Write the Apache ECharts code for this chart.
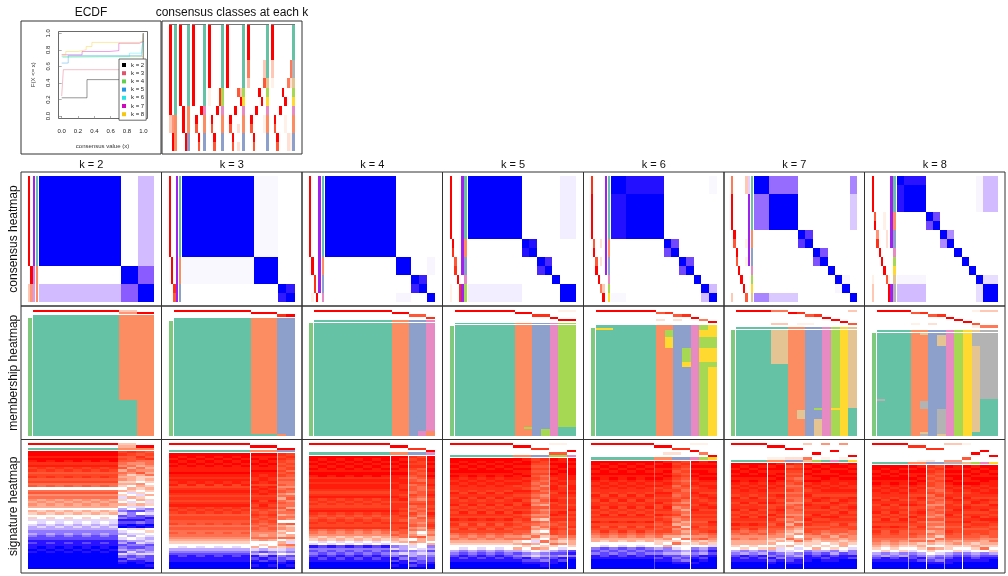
<!DOCTYPE html>
<html><head><meta charset="utf-8"><title>consensus partition</title>
<style>html,body{margin:0;background:#fff}#c{width:1008px;height:576px}</style>
<script src="https://cdn.jsdelivr.net/npm/echarts@6/dist/echarts.min.js"></script>
</head><body><div id="c"></div>
<script>
/* ---------- data ---------- */
const kValues=[2,3,4,5,6,7,8];
const kLabels=['k = 2','k = 3','k = 4','k = 5','k = 6','k = 7','k = 8'];
const rowLabels=['consensus heatmap','membership heatmap','signature heatmap'];
const ecdfX={2:[0,0.31,1],3:[0,0.02,1],4:[0.01,0.02,1],5:[0,0.08,0.98,1],6:[0,0.83,0.98,1],7:[0,0.25,0.58,0.7,0.95,1],8:[0,0.05,0.2,0.3,0.37,0.95,1]};
const ecdfY={2:[0.22,0.44,1],3:[0.24,0.56,1],4:[0.71,0.72,1],5:[0.64,0.73,0.74,1],6:[0.72,0.76,0.76,1],7:[0.74,0.78,0.79,0.88,0.9,1],8:[0.74,0.78,0.8,0.84,0.89,0.91,1]};
const ecdfColors=['#000000','#DF536B','#61D04F','#2297E6','#28E2E5','#CD0BBC','#F5C710'];
const classColors=['#ffffff','#66C2A5','#FC8D62','#8DA0CB','#E78AC3','#A6D854','#FFD92F','#E5C494','#B3B3B3'];

// consensus classes at each k : probability columns (rows top to bottom) and class column
const stepProb={
2:['99999999993300','00000000005599'],
3:['99999999900000','00000000099900','00000000000099'],
4:['99999999900000','00000000009700','00000000000097','00000000090000'],
5:['99999991100000','00000000009700','00000000000097','00000000090000','00000008800000'],
6:['99999990000000','00000000009700','00000000000097','00000000090000','00000007000202','00000003900000'],
7:['99996630000000','00000000009700','00000000000097','00000000090000','00000009000000','00000000900000','00003370001100'],
8:['99993310000000','00000000009700','00000000000097','00000000090000','00000009000000','00000000901100','00000060000022','00006620000011']};
const stepClass={2:'11111111112222',3:'11111111122233',4:'11111111142233',5:'11111115542233',6:'11111115642233',7:'11111175642233',8:'11118875642233'};

// consensus heatmap: sample blocks and the consensus between blocks (percent)
const consSizes={2:[10,2,2],3:[9,3,1,1],4:[9,2,1,1,1],5:[7,1,1,1,1,1,2],6:[2,5,1,1,1,1,1,1,1],7:[2,4,1,1,1,1,1,1,1,1],8:[1,3,1,1,1,1,1,1,1,1,2]};
const consLinks={
2:[[0,2,25],[1,2,55]],
3:[[0,1,2],[2,3,88]],
4:[[2,3,85],[1,4,3]],
5:[[1,2,92],[3,4,80],[0,6,5]],
6:[[0,1,92],[2,3,65],[4,5,65],[7,8,25],[0,8,2]],
7:[[0,1,50],[2,3,75],[4,5,60],[0,9,42],[1,9,20],[7,8,3]],
8:[[0,1,90],[2,3,65],[4,5,40],[0,10,25],[1,10,25],[9,10,12],[0,9,3],[1,9,3]]};
const consProb={
2:['99999999990033','00000000009955'],
3:['99999999900000','00000000099900','00000000000087'],
4:['99999999900000','00000000099001','00000000000880','00000000000009'],
5:['99999990000011','00000009800000','00000000078000','00000000000900','00000000000088'],
6:['88999990000000','00000007900000','00000000079000','00000000000900','00000002020060','00000000000039'],
7:['66999900000003','00000097000000','00000000970000','00000000009000','00000000000900','00000000000090','33000001010007'],
8:['99990000000133','00007900000000','00000058000000','00000000900000','00000000090000','00001100009000','00000022000700','00000000000199']};
const consSil={2:'99999999995544',3:'99999999999999',4:'99999999999990',5:'99999999999099',6:'99999999999000',7:'22999999990000',8:'99999999000099'};
const consClass={2:'11111111112222',3:'11111111122233',4:'11111111122334',5:'11111112233455',6:'11111112233456',7:'11111122334567',8:'11112233456788'};

// membership heatmap: bands [height, class of each of the 14 samples]
const memberBands={
2:[[258,'11111111112222'],[108,'11111111111122']],
3:[[351,'11111111122233'],[6,'11111111111123']],
4:[[6,'11111111122334'],[3,'00000000000000'],[327,'11111111122334'],[15,'11111111122342']],
5:[[6,'11111112233455'],[3,'00000000000000'],[308,'11111112233455'],[7,'11111112533411'],[21,'11111112235411']],
6:[[3,'11111112233456'],[6,'11111112233456'],[6,'66111112233456'],[21,'11111112533466'],[33,'11111112633455'],[45,'11111112235466'],[15,'11111112236455'],[210,'11111112233456']],
7:[[6,'11111122334567'],[3,'00000000000000'],[101,'11117722334567'],[135,'11111122334567'],[6,'11111122354661'],[27,'11111127334561'],[52,'11111122374561']],
8:[[6,'11112233456788'],[3,'00000000000000'],[6,'11112733456888'],[36,'11112237456888'],[159,'11112233456788'],[6,'81112233456711'],[26,'11112833456711'],[69,'11112238456711'],[7,'11112738456111'],[6,'11112837456111']]};
const memberProb={
2:['99999999993300','00000000005599'],
3:['99999999900000','00000000099900','00000000000089'],
4:['99999999900000','00000000099000','00000000000770','00000000000008'],
5:['99999990000011','00000009900000','00000000088000','00000000000900','00000000000099'],
6:['99999990000000','00000007800000','00000000078000','00000000000900','00000002020060','00000000000009'],
7:['99996600000003','00000098000000','00000000780000','00000000009000','00000000000900','00000000000090','00003301100007'],
8:['99990000000133','00007800000000','00000078000000','00000000900000','00000000090000','00000000009000','00001020000700','00000000000166']};

// signature heatmap: annotation rows
const sigProb={
2:['99999999993300','00000000004499'],
3:['99999999900000','00000000099900','00000000000099'],
4:['99999999900000','00000000099000','00000000000880','00000000000009'],
5:['99999990000110','00000009900000','00000000088000','00000000000009','00000000000770'],
6:['99999990000110','00000009900000','00000000088000','00000000000900','00000000220060','00000000000009'],
7:['99990000305050','00009900000000','00000099000000','00000000000900','00000000090000','00000000000009','00001122601010'],
8:['99990000331000','00008800000000','00000088000000','00000000000090','00000000000900','00000000000009','00000000007000','00000120550000']};
const sigClass={2:'11111111112222',3:'11111111122233',4:'11111111122334',5:'11111112233554',6:'11111112233456',7:'11112233751416',8:'11112233887546'};
const sigSizes={2:[10,2,2],3:[9,3,2],4:[9,2,2,1],5:[7,2,2,2,1],6:[7,2,2,2,1],7:[4,2,2,1,1,1,1,1,1],8:[4,2,2,2,1,1,1,1]};
const sigGaps={2:[],3:[[9,1],[12,0.6]],4:[[9,1],[11,1],[13,1]],5:[[11,0.6],[13,1]],6:[[7,0.3],[11,1]],7:[[4,1],[6,1],[8,1]],8:[[4,0.6],[6,1],[8,0.6],[10,1]]};
// signature heatmap: colour level of each gene row per column (0 blue, 6 white, f red); spaces only group the rows
const sigRows={
2:[['ffefe decdbcd bcab6 ab9a989 8687 675654 43432 1211010000000',
    'ffeff dedcbcc bcaa6 ab9a898 8678 665545 43322 1110100000000'],
   ['cdbcb a9b8a98 97876 8675768 6435 231210 65465 3423425312100',
    'dcbbb 9a8a978 87868 7568657 5623 321201 56546 4232354231000'],
   ['cbdca 98a9b87 76987 6757868 5426 221310 76565 4532435321100',
    'bcbda a9898a7 87678 7686757 6345 312201 67654 5423345222010']],
3:[['ffefefeef ededecdedcdcdecdcbc cbcabab a987 66 432 111000',
    'fefefeeef edeeccdedcdcdedcdbc cbbabaa a987 65 432 211000'],
   ['fefefeefe eddecededcdedcdbcdc bcbaba9 9a86 68 534 121010',
    'feefefefe deedcdedecdcdedcbcb cbabaa9 8a96 76 425 312000'],
   ['dcdcbcbcb cabab9ab9a8abab9a8a a6a8978 7a68 97 546 322100',
    'cdcbcbcac babaa9ba8ab9aa8ba9a 96b7886 8a75 a8 435 231010']],
4:[['ffefefefe dedeedcdedcdcdedcbcdcd ba9 87 65 1 323 211000',
    'fefefeeff dedeedcdecdccdecbcdccd a99 78 56 2 332 121000'],
   ['ffefefefe eedeedddedcdddedcccdcc cab 98 76 3 524 312010',
    'fefefeefe deeddedcdecddcdcdcbdcd bba a7 86 4 435 231100'],
   ['dcdcdcbcb abcabbacbabcabacb9aab9 a89 a6 97 5 634 423120',
    'cdccdbcbc bacbaabba9bcbaba9ba9a8 967 b8 86 6 545 332210'],
   ['ffefeffef eddedcdedcddcdcedcbcdc a9a 88 68 3 424 322100']],
5:[['ffefefef ededdcedcddecdcdcecdcbc a9a8 766 432 11000',
    'fefeffee dededdcdecdcdcedcdcbcdc ba98 765 321 21000'],
   ['fefefefe edecdedcdeccdcecdcbcbcb b9a7 868 423 21000',
    'effefeef deddcedcdcdedcdbcdcbccb a8a6 976 534 12100'],
   ['cdcbcbcb cbabacbab9a9bab9a8ba897 8a75 869 645 32100',
    'dccbcbca bab9bab9aba8b9a9a7a9a86 976a 678 534 23110'],
   ['fefefefe dedeedcddecddcdecdcbcdc c9a8 a76 423 21100',
    'eeffefee edecddedcddcdcedcdbcbcb ba87 965 324 12000'],
   ['fefefffe eddeededcddcdecdcdccdbc ca98 876 213 10000']],
6:[['ffefefef ededdcedcddecdcdcecdcb a988 66 323 110000',
    'fefeffee dededdcdecdcdcedcdcbcd ba87 65 232 210000'],
   ['fefeefef edecdedcdeccdcecdcbcbc ba87 76 423 121000',
    'effefefe deddcedcdcdedcdbcdcbcc a897 68 334 211000'],
   ['dcdcbcdc bcabcbabcab9abca9a8b9a a867 a6 534 232100',
    'cdcbcbcb abcbabbca9ba8a9ba897a8 97a6 76 645 323100'],
   ['fefefefe dedcdedcddcdedcdcbcdcb b9a8 76 323 210100',
    'eefeffef ededdcedcdedcdcdcbcbcc a9b7 86 434 121000'],
   ['fefeefef edeedcdedcdecdcdcedccd ba98 75 212 100000']],
7:[['ffefefef ededdcedcddecdcdcecd ba9a88 76 43 211000',
    'fefeffee dededdcdecdcdcedcdcb ab9988 67 34 121000'],
   ['fefeefef ededcdcdeccdcecdcbcb ba9878 68 42 312100',
    'effefefe deddcedcdcdedcdbcdcb a99786 75 53 231000'],
   ['ebdcbcbc babcabab9abaa9b9a8a9 878a76 86 54 322100',
    'dcdcbcab cabbabaa9baba9aa8b98 7968a7 65 63 421100'],
   ['fefefeef dedcdedcdedcdcdecdbc ca9a87 76 32 111000'],
   ['efefefef ededdcdecddcdedcdcbc bb9877 68 43 210000'],
   ['fefeeffe dededcedcdecdcecdcbc a9a986 76 42 121000'],
   ['ffefefee edeedcdcedcdcdedcbcb ba8987 67 34 211000'],
   ['efeffefe dededcdedcdcedcdcdcb b9a878 86 52 110000'],
   ['fefefefe eddedcedcdedcdcdcbcc aa9987 65 33 120000']],
8:[['ffefefef ededdcedcddecdcdcecd cbaa98 76 43 21000',
    'fefeffee dededdcdecdcdcedcdcb bba987 67 34 11000'],
   ['fefeefef ededcdcdeccdcecdcbcb cb9a87 65 32 21000',
    'effefefe deddcedcdcdedcdbcdcb ba9a78 76 43 12000'],
   ['dcdcbcbc cabcabab9abaa9b9a9a8 a97a86 97 64 32100',
    'cdcbcbcb bbabcaba9bab9ab9a8a9 97a876 86 53 23100'],
   ['fefefefe dedcdedcddcdedcdcbcd cba987 76 43 21100',
    'eefeffef ededdcedcdedcdcdcbcc bba897 67 32 11000'],
   ['fefefeef dedcdedcdedcdcdecdbc cba987 65 32 11000'],
   ['efefefef ededdcdecddcdedcdcbc bba978 76 43 21000'],
   ['fefeeffe dededcedcdecdcecdcbc ca9887 a6 32 11000'],
   ['ffefefee edeedcdcedcdcdedcbcb bb9a87 67 42 10000']]};

/* ---------- colour scales ---------- */
const sigRamp=['#0000ff','#2a14ff','#5f48ff','#9078ff','#bca8ff','#e4d8ff','#ffffff','#ffd0c0','#ffac92','#ff8e70','#ff7050','#ff5838','#ff4424','#ff3018','#ff1c0a','#ff0000'];
const probRamp=['#ffffff','#fff0e8','#ffe0d4','#ffc8b4','#ffb098','#ff9478','#ff7858','#ff5838','#ff3018','#ff0000'];
function hex(c){return [1,3,5].map(i=>parseInt(c.slice(i,i+2),16));}
function mix(a,b,t){const A=hex(a),B=hex(b);return 'rgb('+A.map((v,i)=>Math.round(v+(B[i]-v)*t)).join(',')+')';}
function silColor(l){return mix('#ffffff','#a020f0',l/9);}
const consStops=[[0,'#ffffff'],[5,'#f3eeff'],[25,'#d2bcff'],[55,'#8a5cff'],[75,'#5a34ff'],[90,'#2a14ff'],[100,'#0000ff']];
function consColor(v){for(let i=1;i<consStops.length;i++){if(v<=consStops[i][0]){const a=consStops[i-1],b=consStops[i];return mix(a[1],b[1],(v-a[0])/(b[0]-a[0]));}}return '#0000ff';}

/* ---------- layout helpers ---------- */
const frameX=[21,161.5,302,442.5,583.5,724,864.5,1005];
const frameY=[172,306,439.5,573];
const grids=[],xAxes=[],yAxes=[],series=[];
function addAxes(x,y){const i=grids.length-1;xAxes.push(Object.assign({gridIndex:i},x));yAxes.push(Object.assign({gridIndex:i},y));return i;}
function frame(left,top,width,height,xName,yName){
  grids.push({left,top,width,height,show:true,borderColor:'#333',borderWidth:1,backgroundColor:'transparent'});
  const base={type:'value',min:0,max:1,axisLine:{show:false},axisTick:{show:false},axisLabel:{show:false},splitLine:{show:false},nameLocation:'middle',silent:true};
  addAxes(Object.assign({},base,{position:'top',name:xName||'',nameGap:2,nameTextStyle:{fontSize:xName&&xName[0]==='k'?11:12,color:'#111',verticalAlign:'bottom'}}),
          Object.assign({},base,{name:yName||'',nameGap:1.5,nameTextStyle:{fontSize:12,color:'#111',verticalAlign:'bottom'}}));
}
function region(left,top,width,height,xMax,yMax,cells){
  grids.push({left,top,width,height,show:false});
  const i=addAxes({type:'value',min:0,max:xMax,show:false},{type:'value',min:0,max:yMax,inverse:true,show:false});
  series.push({type:'custom',xAxisIndex:i,yAxisIndex:i,silent:true,clip:false,animation:false,progressive:0,z:3,
    data:cells.map(c=>c.slice(0,4)),encode:{x:[0,1],y:[2,3]},
    renderItem(p,api){
      const c=cells[p.dataIndex];
      const a=api.coord([api.value(0),api.value(2)]),b=api.coord([api.value(1),api.value(3)]);
      const x0=Math.round(a[0]),y0=Math.round(a[1]);
      const w=Math.max(1,Math.round(b[0])-x0),h=Math.max(1,Math.round(b[1])-y0);
      return {type:'rect',shape:{x:x0,y:y0,width:w,height:h},style:{fill:c[4]}};
    }});
}
const CONTENT=126, PAD_X=7, PAD_Y=4, ANN=2.36;

/* ---------- top row: ECDF ---------- */
frame(21,21,140,133,'ECDF','');
frame(162,21,140,133,'consensus classes at each k','');
grids.push({left:58.5,top:31.5,width:89,height:87,show:true,borderColor:'#444',borderWidth:0.8,backgroundColor:'transparent'});
addAxes({type:'value',min:0,max:1,show:false},{type:'value',min:0,max:1,show:false});
grids.push({left:61.7,top:33.3,width:81.6,height:82.7,show:false});
const ecdfGrid=addAxes({type:'value',min:0,max:1,interval:0.2,offset:2.5,position:'bottom',name:'consensus value (x)',nameLocation:'middle',nameGap:25,
    nameTextStyle:{fontSize:6,color:'#333'},axisLine:{show:false},axisTick:{length:3,lineStyle:{color:'#777',width:0.6}},splitLine:{show:false},
    axisLabel:{fontSize:6,color:'#222',margin:10,formatter:v=>v.toFixed(1),showMaxLabel:true,showMinLabel:true}},
  {type:'value',min:0,max:1,interval:0.2,offset:3.2,position:'left',name:'F(X <= x)',nameLocation:'middle',nameGap:22,
    nameTextStyle:{fontSize:6,color:'#333'},axisLine:{show:false},axisTick:{length:3,lineStyle:{color:'#777',width:0.6}},splitLine:{show:false},
    axisLabel:{fontSize:6,color:'#222',rotate:90,margin:7,formatter:v=>v.toFixed(1),showMaxLabel:true,showMinLabel:true}});
kValues.forEach((k,n)=>{
  series.push({type:'line',name:kLabels[n],xAxisIndex:ecdfGrid,yAxisIndex:ecdfGrid,step:'end',showSymbol:false,symbol:'none',animation:false,silent:true,z:2,
    itemStyle:{color:ecdfColors[n]},lineStyle:{color:ecdfColors[n],width:0.7,opacity:n===0?0.6:0.55},
    data:ecdfX[k].map((x,i)=>[x,ecdfY[k][i]])});
});

/* ---------- top row: consensus classes at each k ---------- */
(function(){
  const cells=[];let x=0;const gap=0.875;
  kValues.forEach(k=>{
    const x0=x;
    stepProb[k].forEach(col=>{[...col].forEach((ch,r)=>{if(ch!=='0')cells.push([x,x+1,r,r+1,probRamp[+ch]]);});x+=1;});
    [...stepClass[k]].forEach((ch,r)=>cells.push([x,x+1,r,r+1,classColors[+ch]]));x+=1;
    cells.push([x0,x,0,0.08,'#777777']);
    x+=gap;
  });
  region(169,24,126,127,x-gap,14,cells);
})();

/* ---------- the 3 x 7 panels ---------- */
kValues.forEach((k,n)=>{
  const fl=frameX[n],fw=frameX[n+1]-frameX[n];
  frame(fl,frameY[0],fw,frameY[1]-frameY[0],kLabels[n],n===0?rowLabels[0]:'');
  frame(fl,frameY[1],fw,frameY[2]-frameY[1],'',n===0?rowLabels[1]:'');
  frame(fl,frameY[2],fw,frameY[3]-frameY[2],'',n===0?rowLabels[2]:'');
  const cl=fl+PAD_X;

  /* consensus heatmap */
  let t=frameY[0]+PAD_Y;
  const annUnits=k+2.3, annW=ANN*annUnits;
  const ann=[];
  consProb[k].forEach((col,i)=>{[...col].forEach((ch,r)=>{if(ch!=='0')ann.push([i,i+1,r,r+1,probRamp[+ch]]);});});
  [...consSil[k]].forEach((ch,r)=>{if(ch!=='0')ann.push([k,k+1,r,r+1,silColor(+ch)]);});
  [...consClass[k]].forEach((ch,r)=>ann.push([k+1.3,k+2.3,r,r+1,classColors[+ch]]));
  region(cl,t,annW,CONTENT,annUnits,14,ann);
  const sizes=consSizes[k],edges=[0];sizes.forEach(s=>edges.push(edges[edges.length-1]+s));
  const link=(a,b)=>{if(a===b)return 100;const f=consLinks[k].find(l=>(l[0]===a&&l[1]===b)||(l[0]===b&&l[1]===a));return f?f[2]:0;};
  const heat=[];
  sizes.forEach((_,i)=>sizes.forEach((__,j)=>{const v=link(i,j);if(v>0)heat.push([edges[j],edges[j+1],edges[i],edges[i+1],consColor(v)]);}));
  const hl=cl+annW+1;
  region(hl,t,cl+CONTENT-hl,CONTENT,14,14,heat);

  /* membership heatmap */
  t=frameY[1]+PAD_Y;
  const topRows=[];
  memberProb[k].forEach((row,i)=>{[...row].forEach((ch,c)=>{if(ch!=='0')topRows.push([c,c+1,i,i+1,probRamp[+ch]]);});});
  const topH=2.4*k+(k>2?0.5:0);
  const memLeft=cl+5;
  region(memLeft,t,CONTENT-5,2.2*k,14,k,topRows);
  const bands=[];let yy=0;
  memberBands[k].forEach(b=>{[...b[1]].forEach((ch,c)=>{if(ch!=='0')bands.push([c,c+1,yy,yy+b[0],classColors[+ch]]);});yy+=b[0];});
  region(memLeft,t+topH,CONTENT-5,CONTENT-topH,14,yy,bands);
  region(cl,t+topH+3,4.3,CONTENT-topH-3,1,1,[[0,1,0,1,'#7FC97F']]);

  /* signature heatmap */
  t=frameY[2]+PAD_Y-0.5;
  const rowsN=k+1, sigTop=rowsN*2.37+1;
  const sAnn=[];
  sigProb[k].forEach((row,i)=>{[...row].forEach((ch,c)=>{if(ch!=='0')sAnn.push([c,c+1,i,i+1,probRamp[+ch]]);});});
  [...sigClass[k]].forEach((ch,c)=>sAnn.push([c,c+1,k,k+1,classColors[+ch]]));
  region(cl,t,CONTENT,rowsN*2.37,14,rowsN,sAnn);
  const sCells=[];let col=0;
  sigSizes[k].forEach((size,g)=>{
    const profs=sigRows[k][g].map(s=>s.replace(/ /g,''));
    for(let j=0;j<size;j++,col++){
      const s=profs[j%profs.length],L=s.length;
      [...s].forEach((ch,r)=>sCells.push([col,col+1,r/L,(r+1)/L,sigRamp[parseInt(ch,16)]]));
    }
  });
  sigGaps[k].forEach(g=>sCells.push([g[0],g[0]+0.02,0,1,'rgba(255,255,255,'+g[1]+')']));
  region(cl,t+sigTop,CONTENT,CONTENT-sigTop,14,1,sCells);
});

const chart=echarts.init(document.getElementById('c'),null,{renderer:'canvas'});
chart.setOption({
  animation:false,
  backgroundColor:'#ffffff',
  textStyle:{fontFamily:'"Liberation Sans",Arial,sans-serif'},
  tooltip:{show:false},
  legend:{show:true,data:kLabels,orient:'vertical',left:119,top:59,itemWidth:4,itemHeight:4,itemGap:2.2,padding:[3,2,3,3],icon:'rect',
    backgroundColor:'#ffffff',borderColor:'#444',borderWidth:0.8,selectedMode:false,z:10,
    textStyle:{fontSize:6,color:'#222'}},
  grid:grids,xAxis:xAxes,yAxis:yAxes,series
});
</script></body></html>
